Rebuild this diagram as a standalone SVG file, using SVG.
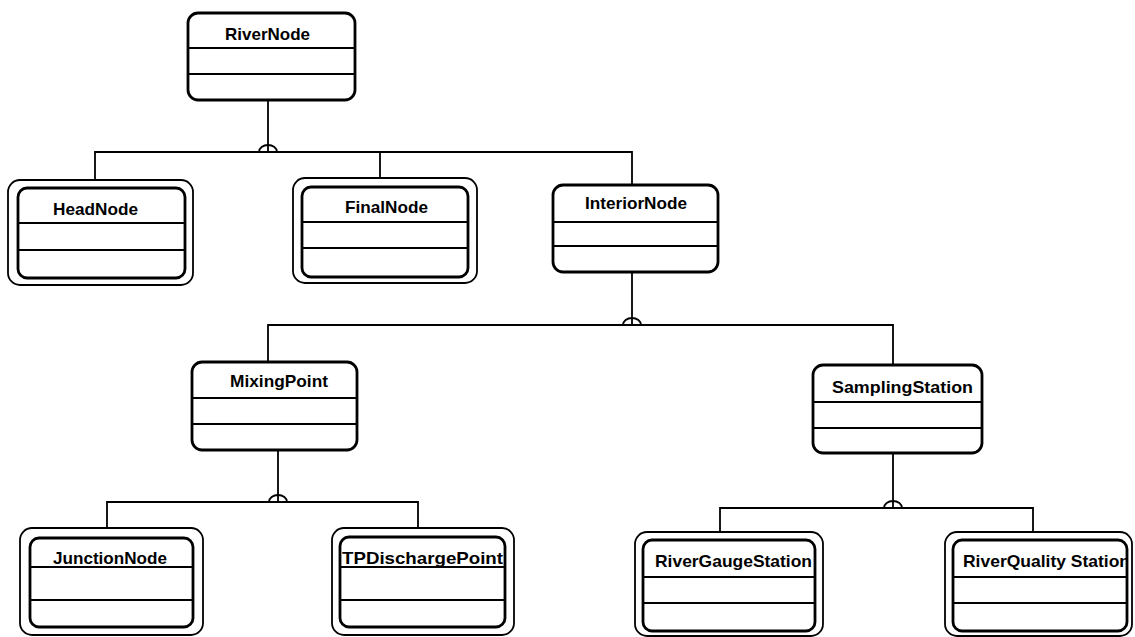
<svg xmlns="http://www.w3.org/2000/svg" width="1135" height="637" viewBox="0 0 1135 637">
<style>
.box{fill:#fff;stroke:#000;stroke-width:2.8}
.outer{fill:#fff;stroke:#000;stroke-width:1.8}
.div{stroke:#000;stroke-width:1.8}
.lbl{font-family:"Liberation Sans",Arial,sans-serif;font-weight:bold;font-size:17px;fill:#000}
.con{fill:none;stroke:#000;stroke-width:1.8}
</style>
<defs>
<clipPath id="clipRQ"><rect x="953" y="540" width="173" height="91"/></clipPath>
</defs>
<rect width="1135" height="637" fill="#fff"/>
<g id="connectors">
<path class="con" d="M268 100 V152 M95 188 V152 H632 V185 M380 152 V187"/>
<path class="con" d="M259 152 A9 7 0 0 1 277 152"/>
<path class="con" d="M632 272 V325 M268 362 V325 H893 V365"/>
<path class="con" d="M623 325 A9 7 0 0 1 641 325"/>
<path class="con" d="M278 450 V502 M107 538 V502 H418 V537"/>
<path class="con" d="M269 502 A9 7 0 0 1 287 502"/>
<path class="con" d="M893 453 V508 M720 540 V508 H1033 V540"/>
<path class="con" d="M884 508 A9 7 0 0 1 902 508"/>
</g>
<g id="RiverNode">
<rect class="box" x="188" y="13" width="167" height="87" rx="10"/>
<line class="div" x1="188" y1="48" x2="355" y2="48"/>
<line class="div" x1="188" y1="74" x2="355" y2="74"/>
<text class="lbl" x="225" y="40" textLength="85" lengthAdjust="spacingAndGlyphs">RiverNode</text>
</g>
<g id="HeadNode">
<rect class="outer" x="8" y="180" width="185" height="105" rx="12"/>
<rect class="box" x="18" y="188" width="167" height="90" rx="9"/>
<line class="div" x1="18" y1="223" x2="185" y2="223"/>
<line class="div" x1="18" y1="250" x2="185" y2="250"/>
<text class="lbl" x="53" y="215" textLength="85" lengthAdjust="spacingAndGlyphs">HeadNode</text>
</g>
<g id="FinalNode">
<rect class="outer" x="293" y="178" width="184" height="105" rx="12"/>
<rect class="box" x="302" y="187" width="166" height="90" rx="9"/>
<line class="div" x1="302" y1="222" x2="468" y2="222"/>
<line class="div" x1="302" y1="248" x2="468" y2="248"/>
<text class="lbl" x="345" y="213" textLength="83" lengthAdjust="spacingAndGlyphs">FinalNode</text>
</g>
<g id="InteriorNode">
<rect class="box" x="553" y="185" width="165" height="87" rx="10"/>
<line class="div" x1="553" y1="222" x2="718" y2="222"/>
<line class="div" x1="553" y1="246" x2="718" y2="246"/>
<text class="lbl" x="585" y="209" textLength="102" lengthAdjust="spacingAndGlyphs">InteriorNode</text>
</g>
<g id="MixingPoint">
<rect class="box" x="192" y="362" width="165" height="88" rx="10"/>
<line class="div" x1="192" y1="398" x2="357" y2="398"/>
<line class="div" x1="192" y1="424" x2="357" y2="424"/>
<text class="lbl" x="230" y="387" textLength="98" lengthAdjust="spacingAndGlyphs">MixingPoint</text>
</g>
<g id="SamplingStation">
<rect class="box" x="813" y="365" width="169" height="88" rx="10"/>
<line class="div" x1="813" y1="402" x2="982" y2="402"/>
<line class="div" x1="813" y1="428" x2="982" y2="428"/>
<text class="lbl" x="832" y="393" textLength="141" lengthAdjust="spacingAndGlyphs">SamplingStation</text>
</g>
<g id="JunctionNode">
<rect class="outer" x="20" y="528" width="183" height="107" rx="12"/>
<rect class="box" x="30" y="538" width="163" height="89" rx="9"/>
<line class="div" x1="30" y1="567" x2="193" y2="567"/>
<line class="div" x1="30" y1="600" x2="193" y2="600"/>
<text class="lbl" x="53" y="564" textLength="114" lengthAdjust="spacingAndGlyphs">JunctionNode</text>
</g>
<g id="TPDischargePoint">
<rect class="outer" x="332" y="528" width="182" height="107" rx="12"/>
<rect class="box" x="340" y="537" width="165" height="90" rx="9"/>
<line class="div" x1="340" y1="567" x2="505" y2="567"/>
<line class="div" x1="340" y1="600" x2="505" y2="600"/>
<text class="lbl" x="342" y="564" textLength="161" lengthAdjust="spacingAndGlyphs">TPDischargePoint</text>
</g>
<g id="RiverGaugeStation">
<rect class="outer" x="635" y="532" width="188" height="104" rx="12"/>
<rect class="box" x="643" y="540" width="172" height="91" rx="9"/>
<line class="div" x1="643" y1="577" x2="815" y2="577"/>
<line class="div" x1="643" y1="603" x2="815" y2="603"/>
<text class="lbl" x="655" y="567" textLength="157" lengthAdjust="spacingAndGlyphs">RiverGaugeStation</text>
</g>
<g id="RiverQualityStation">
<rect class="outer" x="945" y="532" width="187" height="104" rx="12"/>
<rect class="box" x="953" y="540" width="174" height="91" rx="9"/>
<line class="div" x1="953" y1="577" x2="1127" y2="577"/>
<line class="div" x1="953" y1="603" x2="1127" y2="603"/>
<text class="lbl" x="963" y="567" textLength="167" lengthAdjust="spacingAndGlyphs" clip-path="url(#clipRQ)">RiverQuality Station</text>
</g>
</svg>
